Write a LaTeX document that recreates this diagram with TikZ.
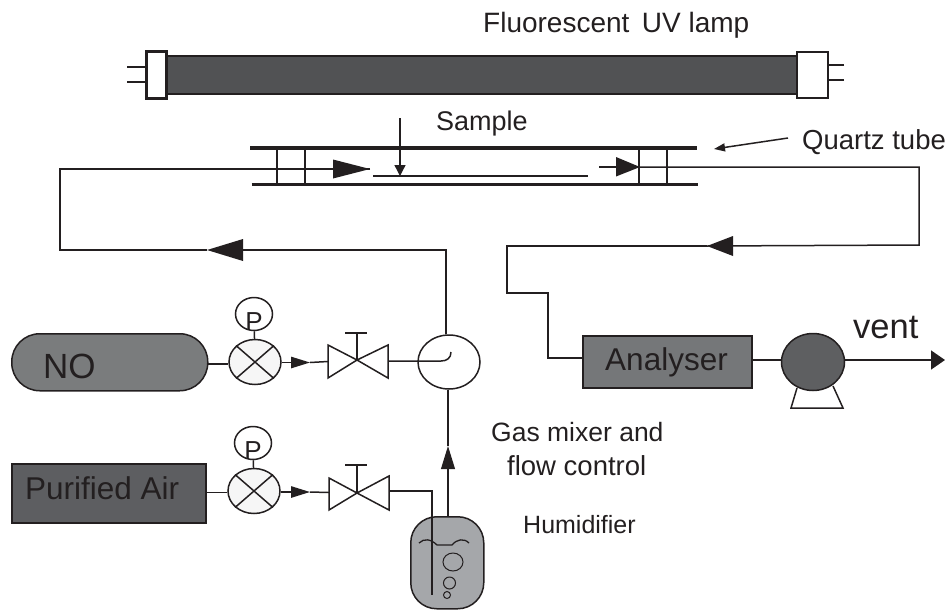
\documentclass[tikz,border=0pt]{standalone}
\usepackage{fontspec}
\setmainfont{Liberation Sans}
\usetikzlibrary{shapes.geometric,arrows.meta}
\definecolor{ink}{HTML}{231F20}
\definecolor{lampgrey}{HTML}{515254}
\definecolor{nogrey}{HTML}{7A7C7D}
\definecolor{airgrey}{HTML}{5D5E61}
\definecolor{angrey}{HTML}{757779}
\definecolor{pumpgrey}{HTML}{5E5F61}
\definecolor{humgrey}{HTML}{A5A7AA}
\definecolor{regwhite}{HTML}{F6F6F6}
\tikzset{
  x=1pt,y=-1pt,
  every path/.style={line join=miter},
  pipe/.style={draw=ink,line width=1.5pt},
  thick line/.style={draw=ink,line width=3.2pt},
  flow/.style={pipe,-{Triangle[length=#1,width=#1*0.6]}},
  flow/.default=26pt,
  lbl/.style={text=ink,inner sep=0pt,font=\fontsize{27}{32}\selectfont},
  big/.style={text=ink,inner sep=0pt,font=\fontsize{35}{42}\selectfont},
  mid/.style={text=ink,inner sep=0pt,font=\fontsize{31.5}{36}\selectfont},
  reg/.style={ellipse,draw=ink,line width=1.5pt,fill=regwhite,minimum width=52pt,minimum height=45pt,inner sep=0pt},
  gauge/.style={ellipse,draw=ink,line width=1.5pt,fill=white,minimum width=37pt,minimum height=33pt,inner sep=0pt,text=ink,font=\fontsize{26}{30}\selectfont},
  valveshape/.style={draw=ink,line width=1.5pt,fill=white},
  lampcap/.style={draw=ink,fill=white,rectangle,inner sep=0pt},
}
\begin{document}
\begin{tikzpicture}
\useasboundingbox (0,0) rectangle (945,611);
% ---- lamp
\node[rectangle,draw=ink,line width=1.5pt,fill=lampgrey,inner sep=0pt,minimum width=634pt,minimum height=38pt,anchor=north west] (lamp) at (163,55) {};
\node[lampcap,line width=3pt,minimum width=20pt,minimum height=47pt,anchor=north west] (capL) at (145,50) {};
\node[lampcap,line width=1.6pt,minimum width=31pt,minimum height=46pt,anchor=north west] (capR) at (796,51) {};
\coordinate (pL1) at (127,67); \coordinate (pL2) at (127,82);
\coordinate (pR1) at (844,65); \coordinate (pR2) at (844,80);
\draw[pipe] (pL1) -- (pL1 -| capL.west);
\draw[pipe] (pL2) -- (pL2 -| capL.west);
\draw[pipe] (pR1) -- (pR1 -| capR.east);
\draw[pipe] (pR2) -- (pR2 -| capR.east);
\node[lbl,anchor=west,font=\fontsize{28}{32}\selectfont] (lamplabel) at (483,25) {Fluorescent\, UV lamp};
% ---- quartz tube
\coordinate (tTL) at (250,148); \coordinate (tTR) at (697,148);
\coordinate (tBL) at (251.5,184.5); \coordinate (tBR) at (698,184.5);
\draw[pipe] (277,148) -- (277,184.5);
\draw[pipe] (305,148) -- (305,184.5);
\draw[pipe] (639,148) -- (639,184.5);
\draw[pipe] (667,148) -- (667,184.5);
\draw[thick line] (tTL) -- (tTR);
\draw[thick line] (tBL) -- (tBR);
\coordinate (film1) at (373,176); \coordinate (film2) at (588,176);
\draw[pipe] (film1) -- (film2);
\coordinate (sampleTop) at (400,118); \coordinate (sampleTip) at (400,176);
\draw[pipe,-{Triangle[length=11pt,width=11pt]},line width=1.4pt] (sampleTop) -- (sampleTip);
\node[lbl,anchor=west] (samplelabel) at (436,124) {Sample};
\node[lbl,anchor=west,font=\fontsize{27.5}{32}\selectfont] (quartzlabel) at (802,142) {Quartz tube};
\coordinate (qFrom) at (788,138); \coordinate (qTip) at (714,149);
\draw[pipe,-{Triangle[length=11pt,width=8pt]}] (qFrom) -- (qTip);
% ---- equipment
\node[rectangle,rounded corners=28pt,draw=ink,line width=1.5pt,fill=nogrey,minimum width=196pt,minimum height=57pt,anchor=north west,inner sep=0pt] (no) at (11,333) {};
\node[big,anchor=west] (nolabel) at (43,366) {NO};
\node[rectangle,draw=ink,line width=1.5pt,fill=airgrey,minimum width=194pt,minimum height=59pt,anchor=north west,inner sep=0pt] (air) at (11,463) {};
\node[mid,anchor=west] (airlabel) at (25,488) {Purified Air};
\node[reg] (reg1) at (255,362) {};
\node[reg] (reg2) at (254,491) {};
\foreach \r in {reg1,reg2}{
  \draw[pipe] (\r.north east) -- (\r.south west);
  \draw[pipe] (\r.north west) -- (\r.south east);
}
\node[gauge] (g1) at (254,314) {\raisebox{-16pt}[0pt][0pt]{P}};
\node[gauge] (g2) at (253,443) {\raisebox{-16pt}[0pt][0pt]{P}};
\draw[pipe] (g1) -- (reg1);
\draw[pipe] (g2) -- (reg2);
\draw[pipe] (207,364) -- (reg1.west |- 0,364);
\draw[pipe] (205,492.5) -- (reg2.west |- 0,492.5);
% valve 1
\coordinate (v1c) at (357,360);
\coordinate (v1l) at (328,361.5); \coordinate (v1r) at (388,361.5);
\coordinate (v1t) at (357,333);
\draw[valveshape] (328,345) -- (v1c) -- (328,378) -- cycle;
\draw[valveshape] (388,345) -- (v1c) -- (388,378) -- cycle;
\draw[pipe] (v1c) -- (v1t);
\draw[pipe] (345,333) -- (367,333);
% valve 2
\coordinate (v2c) at (357,493);
\coordinate (v2l) at (329,492.5); \coordinate (v2r) at (389,491);
\coordinate (v2t) at (357,465);
\draw[valveshape] (329,478) -- (v2c) -- (329,510) -- cycle;
\draw[valveshape] (389,476) -- (v2c) -- (389,510) -- cycle;
\draw[pipe] (v2c) -- (v2t);
\draw[pipe] (345,465) -- (367,465);
% mixer
\node[ellipse,draw=ink,line width=1.5pt,fill=white,minimum width=62pt,minimum height=54pt,inner sep=0pt] (mixer) at (449,362) {};
\draw[pipe] (v1r) ++(0,-0.5) -- (441,361) .. controls (447,361) and (451,358) .. (451,352);
% regulators to valves
\coordinate (a1) at (310,362.5); \coordinate (a2) at (310,492);
\draw[flow=19pt] (reg1.east |- a1) -- (a1);
\draw[pipe] (a1) -- (v1l);
\draw[flow=19pt] (reg2.east |- a2) -- (a2);
\draw[pipe] (a2) -- (v2l);
% humidifier
\node[rectangle,rounded corners=26pt,draw=ink,line width=1.5pt,fill=humgrey,minimum width=73pt,minimum height=92pt,anchor=north west,inner sep=0pt] (hum) at (410,516) {};
\coordinate (hIn) at (432,595);
\draw[pipe] (v2r) -- (432,491) -- (hIn);
\draw[draw=ink,line width=1.3pt] (419,543) .. controls (424,538) and (431,539) .. (437,545) -- (452,545) .. controls (457,539) and (464,538) .. (469,543);
\node[ellipse,draw=ink,line width=1pt,minimum width=20pt,minimum height=18pt,inner sep=0pt] (b1) at (453,562) {};
\node[ellipse,draw=ink,line width=1pt,minimum width=12pt,minimum height=12pt,inner sep=0pt] (b2) at (449.5,583) {};
\node[ellipse,draw=ink,line width=1pt,minimum width=7pt,minimum height=7pt,inner sep=0pt] (b3) at (447,595) {};
\coordinate (a3) at (448,446);
\draw[flow=23pt] (hum.north -| a3) -- (a3);
\draw[pipe] (a3) -- (mixer.south -| a3);
% left return
\coordinate (c1) at (446,250); \coordinate (c2) at (60,250); \coordinate (c3) at (60,169);
\coordinate (a4) at (207,250); \coordinate (a5) at (370,169);
\draw[flow=36pt] (c1 |- mixer.north) -- (c1) -- (a4);
\draw[pipe] (a4) -- (c2) -- (c3) -- (a5);
\fill[ink] (333,159.5) -- (370,169) -- (333,178.5) -- cycle;
% right line
\coordinate (c4) at (919,167); \coordinate (c5) at (919,245);
\coordinate (c7) at (507,293); \coordinate (c8) at (548,293); \coordinate (c9) at (548,358);
\coordinate (r0) at (599,167); \coordinate (r1) at (639,167); \coordinate (a6) at (707,246);
\node[rectangle,draw=ink,line width=1.5pt,fill=angrey,minimum width=169pt,minimum height=52pt,anchor=north west,inner sep=0pt] (an) at (582,335) {};
\node[mid,anchor=center] (anlabel) at (666.5,362) {Analyser};
\node[ellipse,draw=ink,line width=1.5pt,fill=pumpgrey,minimum width=63pt,minimum height=57pt,inner sep=0pt] (pump) at (813,362) {};
\draw[pipe,line join=miter] (797,388) -- (791,408) -- (843,408) -- (833,386);
\draw[pipe] (r0) -- (r1);
\fill[ink] (616,157) -- (640,167) -- (616,176.5) -- cycle;
\draw[pipe] (r1) -- (c4) -- (c5) -- (a6);
\draw[pipe] (a6) -- (507,246) -- (c7) -- (c8) -- (c9) -- (an.west |- c9);
\fill[ink] (733,236) -- (707,246) -- (733,256) -- cycle;
\draw[pipe] (an.east |- 0,360) -- (pump.west |- 0,360);
\coordinate (ventTip) at (945,360);
\draw[pipe,-{Triangle[length=14pt,width=19pt]}] (pump.east |- 0,360) -- (ventTip);
\node[lbl,anchor=west,font=\fontsize{34.5}{40}\selectfont] (ventlabel) at (853,328) {vent};
% labels
\node[lbl,anchor=west,font=\fontsize{26.5}{32}\selectfont] (gas1) at (491,432) {Gas mixer and};
\node[lbl,anchor=west,font=\fontsize{27.5}{32}\selectfont] (gas2) at (507,466) {flow control};
\node[lbl,anchor=west,font=\fontsize{25}{30}\selectfont] (humlabel) at (523,525) {Humidifier};
\end{tikzpicture}
\end{document}
